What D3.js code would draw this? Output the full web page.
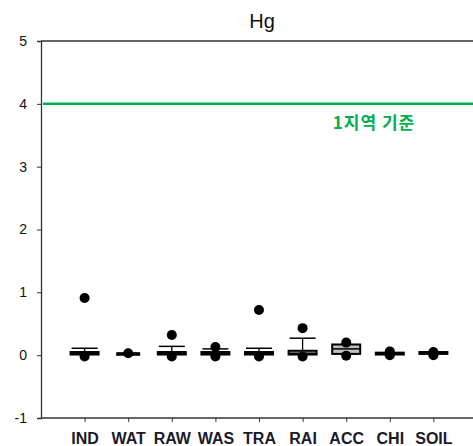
<!DOCTYPE html>
<html><head><meta charset="utf-8">
<script src="https://cdn.jsdelivr.net/npm/d3@7"></script>
<style>body{margin:0;background:#fff}svg{display:block}</style>
</head><body>
<script>
const categories = ["IND","WAT","RAW","WAS","TRA","RAI","ACC","CHI","SOIL"];
const whiskerLow = [0.0, 0.03, 0.0, 0.0, 0.0, 0.0, 0.02, 0.0, 0.02];
const q1 =        [0.01, 0.03, 0.01, 0.01, 0.01, 0.01, 0.02, 0.01, 0.02];
const median =    [0.03, 0.03, 0.03, 0.03, 0.03, 0.03, 0.10, 0.02, 0.03];
const q3 =        [0.05, 0.03, 0.05, 0.05, 0.05, 0.07, 0.17, 0.04, 0.05];
const whiskerHigh=[0.11, 0.03, 0.14, 0.10, 0.11, 0.27, 0.17, 0.04, 0.05];
const outliers = [[0.91,-0.02],[0.03],[0.32,-0.02],[0.13,-0.02],[0.72,-0.02],[0.43,-0.02],[0.20,-0.01],[0.06,0.0],[0.05,0.0]];
const refValue = 4;
const refLabel = "1지역 기준";
const yTicks = [-1,0,1,2,3,4,5];
const title = "Hg";

(function(){
const W=473,H=446;
const svg=d3.select("body").append("svg").attr("width",W).attr("height",H);
const pl=41, pt=41, pb=418, pr=477;
const y=d3.scaleLinear().domain([-1,5]).range([pb,pt]);
const x=d3.scaleLinear().domain([0,categories.length+1]).range([pl,pr]);
const font="'Liberation Sans', Arial, sans-serif";

svg.append("text").attr("x",262).attr("y",28).attr("text-anchor","middle")
  .attr("font-family",font).attr("font-size",20).attr("fill","#111").text(title);

svg.append("line").attr("x1",pl).attr("x2",W).attr("y1",pt).attr("y2",pt).attr("stroke","#333").attr("stroke-width",1.3);

const yAxis=d3.axisLeft(y).tickValues(yTicks).tickSize(4).tickPadding(10).tickFormat(d=>String(d));
const gy=svg.append("g").attr("transform",`translate(${pl},0)`).call(yAxis);
gy.select(".domain").attr("stroke","#333").attr("stroke-width",1.3);
gy.selectAll(".tick line").attr("stroke","#333");
gy.selectAll("text").attr("font-family",font).attr("font-size",14).attr("fill","#111");

const xAxis=d3.axisBottom(x).tickValues(d3.range(1,categories.length+1)).tickSize(4).tickPadding(11)
  .tickFormat(i=>categories[i-1]);
const gx=svg.append("g").attr("transform",`translate(0,${pb})`).call(xAxis);
gx.select(".domain").attr("stroke","#333").attr("stroke-width",1.3).attr("d",`M${pl},0H${W}`);
gx.selectAll(".tick line").attr("stroke","#333");
gx.selectAll("text").attr("font-family",font).attr("font-size",16).attr("font-weight","bold").attr("fill","#1a1a2a");

svg.append("line").attr("x1",pl+2).attr("x2",W).attr("y1",y(refValue)).attr("y2",y(refValue))
  .attr("stroke","#00b050").attr("stroke-width",2.5);
svg.append("text").attr("x",374).attr("y",y(refValue)+25).attr("text-anchor","middle")
  .attr("font-family","'Noto Sans CJK KR', sans-serif").attr("font-size",17).attr("font-weight","bold")
  .attr("letter-spacing",1).attr("fill","#00b050").text(refLabel);

const bw=28;
categories.forEach((c,i)=>{
  const cx=x(i+1);
  const w = c==="WAT" ? 22 : bw;
  const g=svg.append("g");
  g.append("line").attr("x1",cx).attr("x2",cx).attr("y1",y(q3[i])).attr("y2",y(whiskerHigh[i])).attr("stroke","#000").attr("stroke-width",1.3);
  g.append("line").attr("x1",cx).attr("x2",cx).attr("y1",y(q1[i])).attr("y2",y(whiskerLow[i])).attr("stroke","#000").attr("stroke-width",1.3);
  if(whiskerHigh[i]>q3[i]+0.001)
    g.append("line").attr("x1",cx-w/2+1).attr("x2",cx+w/2-1).attr("y1",y(whiskerHigh[i])).attr("y2",y(whiskerHigh[i])).attr("stroke","#000").attr("stroke-width",1.5);
  const bh=Math.max(y(q1[i])-y(q3[i]),1.5);
  g.append("rect").attr("x",cx-w/2).attr("y",y(q3[i])).attr("width",w).attr("height",bh)
    .attr("fill","#c0c0c0").attr("stroke","#000").attr("stroke-width",2);
  g.append("line").attr("x1",cx-w/2).attr("x2",cx+w/2).attr("y1",y(median[i])).attr("y2",y(median[i])).attr("stroke","#000").attr("stroke-width",1.5);
  outliers[i].forEach(v=>{
    g.append("circle").attr("cx",cx).attr("cy",y(v)).attr("r",5).attr("fill","#000");
  });
});
})();
</script>
</body></html>
